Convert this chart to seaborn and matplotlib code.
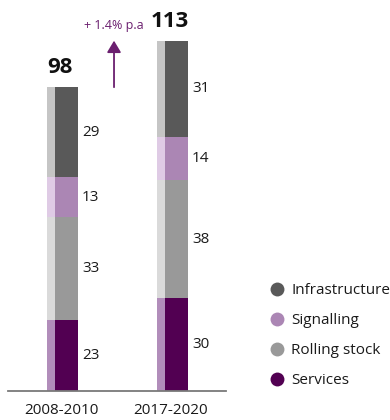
import matplotlib
matplotlib.use("Agg")
import matplotlib.pyplot as plt
import seaborn as sns
import pandas as pd
import numpy as np
from matplotlib.lines import Line2D

# Spend by segment per period
periods = ["2008-2010", "2017-2020"]
services = [23, 30]
rolling_stock = [33, 38]
signalling = [13, 14]
infrastructure = [29, 31]
totals = [98, 113]
segment_names = ["Services", "Rolling stock", "Signalling", "Infrastructure"]
growth_label = "+ 1.4% p.a"

main_colors = {
    "Services": "#520052",
    "Rolling stock": "#999999",
    "Signalling": "#ab86b4",
    "Infrastructure": "#595959",
}
strip_colors = {
    "Services": "#b18dba",
    "Rolling stock": "#dadada",
    "Signalling": "#dfcbe5",
    "Infrastructure": "#c5c5c5",
}

sns.set_theme(style="white")
plt.rcParams["font.family"] = ["Open Sans", "DejaVu Sans"]

df = pd.DataFrame({
    "period": periods,
    "Services": services,
    "Rolling stock": rolling_stock,
    "Signalling": signalling,
    "Infrastructure": infrastructure,
})
cum = df[segment_names].cumsum(axis=1)
bottoms = cum - df[segment_names]

W, H = 390, 420
fig = plt.figure(figsize=(W / 100, H / 100), dpi=100)
px_per_unit = 3.1
ax_left, ax_right, ax_base = 8, 226, 391
ax = fig.add_axes([ax_left / W, (H - ax_base) / H, (ax_right - ax_left) / W, ax_base / H])

spacing = 110.0  # px between categories
main_w = 23 / spacing
strip_w = 8 / spacing
strip_off = -(main_w / 2 + strip_w / 2)

# main bars: cumulative heights drawn tallest first
for seg in reversed(segment_names):
    plot_df = pd.DataFrame({"period": periods, "value": cum[seg].values})
    sns.barplot(data=plot_df, x="period", y="value", color=main_colors[seg],
                saturation=1, width=main_w, ax=ax, errorbar=None, linewidth=0)

# lighter side strip on each bar
xpos = np.arange(len(periods))
for seg in segment_names:
    ax.bar(xpos + strip_off, df[seg].values, bottom=bottoms[seg].values,
           width=strip_w, color=strip_colors[seg], linewidth=0)

# segment value labels
for seg in segment_names:
    for i in range(len(periods)):
        v = df[seg].iloc[i]
        yc = bottoms[seg].iloc[i] + v / 2
        ax.text(i + main_w / 2 + 4 / spacing, yc, f"{v}", ha="left", va="center",
                fontsize=11, color="#1a1a1a")

# totals above bars
for i, t in enumerate(totals):
    ax.annotate(f"{t}", xy=(i + strip_off / 2 + strip_w / 4 - 0.005, t), xytext=(0, 10),
                textcoords="offset points", ha="center", va="baseline",
                fontsize=16, fontweight="bold", color="#111111")

# growth arrow between the two totals
arrow_x = 0.432
ax.annotate("", xy=(arrow_x, totals[1]), xytext=(arrow_x, totals[0]),
            arrowprops=dict(arrowstyle="-|>,head_length=0.5,head_width=0.3",
                            color="#6b1f6f", lw=1.3,
                            mutation_scale=14, shrinkA=0, shrinkB=0))
ax.annotate(growth_label, xy=(arrow_x, totals[1]), xytext=(0, 11),
            textcoords="offset points", ha="center", va="center",
            fontsize=9, color="#6b1f6f")

ax.set_xlim(-58.5 / spacing, (ax_right - ax_left - 58.5) / spacing)
ax.set_ylim(0, ax_base / px_per_unit)
ax.set_xticks(xpos + strip_off / 2 + 0.02)
ax.set_xticklabels(periods, fontsize=11, color="#1a1a1a")
ax.tick_params(axis="x", length=0, pad=9)
ax.set_yticks([])
ax.set_xlabel("")
ax.set_ylabel("")
for s in ["top", "left", "right"]:
    ax.spines[s].set_visible(False)
ax.spines["bottom"].set_color("#7a7a7a")
ax.spines["bottom"].set_linewidth(1.3)

handles = [Line2D([], [], marker="o", linestyle="", markersize=10,
                  markerfacecolor=main_colors[s], markeredgewidth=0)
           for s in reversed(segment_names)]
fig.legend(handles, list(reversed(segment_names)), loc="upper left",
           bbox_to_anchor=(266 / W, 1 - 283 / H), frameon=False, fontsize=11,
           labelspacing=0.98, handletextpad=0.25, handlelength=1.4,
           borderpad=0, borderaxespad=0, labelcolor="#1a1a1a")

fig.savefig("out.png", dpi=100)
